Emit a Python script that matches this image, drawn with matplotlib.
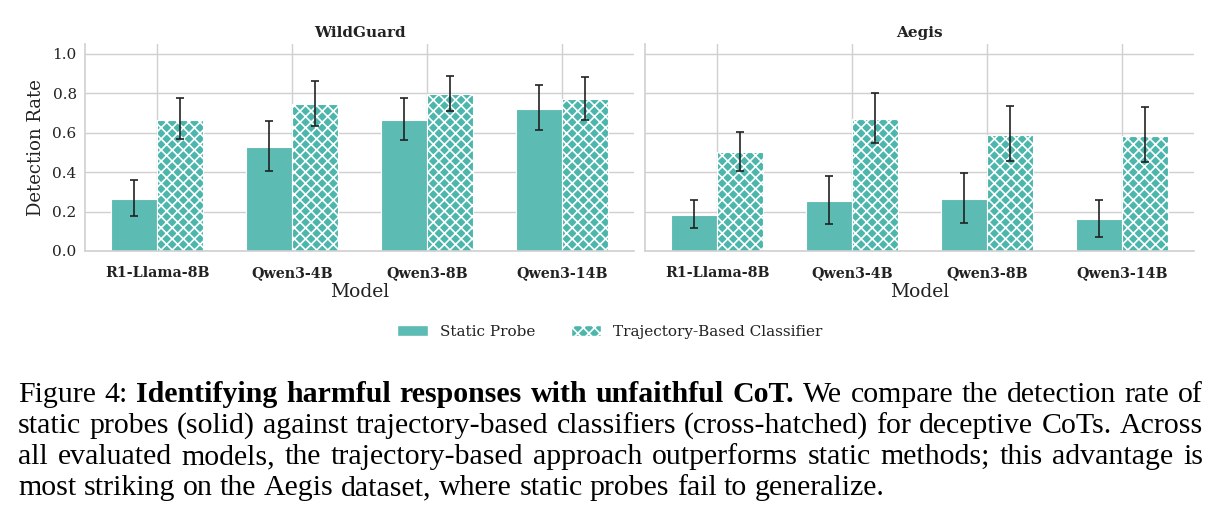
import numpy as np
import matplotlib
matplotlib.use("Agg")
import matplotlib.pyplot as plt
from matplotlib.patches import Patch

# data
models = ["R1-Llama-8B", "Qwen3-4B", "Qwen3-8B", "Qwen3-14B"]
datasets = ["WildGuard", "Aegis"]

wg_static = [0.263, 0.529, 0.666, 0.722]
wg_static_lo = [0.176, 0.407, 0.563, 0.612]
wg_static_hi = [0.358, 0.658, 0.778, 0.841]
wg_traj = [0.666, 0.747, 0.798, 0.773]
wg_traj_lo = [0.568, 0.636, 0.712, 0.664]
wg_traj_hi = [0.775, 0.861, 0.890, 0.885]

ae_static = [0.183, 0.254, 0.263, 0.161]
ae_static_lo = [0.115, 0.137, 0.141, 0.073]
ae_static_hi = [0.258, 0.380, 0.395, 0.258]
ae_traj = [0.503, 0.669, 0.590, 0.585]
ae_traj_lo = [0.408, 0.546, 0.454, 0.451]
ae_traj_hi = [0.605, 0.800, 0.734, 0.729]

yticks = [0.0, 0.2, 0.4, 0.6, 0.8, 1.0]

static_color = "#5cbbb3"
traj_color = "#4db6ac"
grid_color = "#d0d0d0"
W, H = 1218, 522

plt.rcParams["font.family"] = "DejaVu Serif"
plt.rcParams["hatch.linewidth"] = 1.2
plt.rcParams["hatch.color"] = "white"

fig = plt.figure(figsize=(W / 100, H / 100), dpi=100)
ax1 = fig.add_axes([85 / W, (H - 251) / H, 549 / W, 207 / H])
ax2 = fig.add_axes([645 / W, (H - 251) / H, 549 / W, 207 / H])

panels = [
    (ax1, "WildGuard", wg_static, wg_static_lo, wg_static_hi, wg_traj, wg_traj_lo, wg_traj_hi),
    (ax2, "Aegis", ae_static, ae_static_lo, ae_static_hi, ae_traj, ae_traj_lo, ae_traj_hi),
]

x = np.arange(len(models))
bw = 0.34
for ax, title, s, slo, shi, t, tlo, thi in panels:
    s, slo, shi = np.array(s), np.array(slo), np.array(shi)
    t, tlo, thi = np.array(t), np.array(tlo), np.array(thi)
    ax.set_axisbelow(True)
    ax.grid(True, color=grid_color, linewidth=1.0)
    ax.bar(x - bw / 2, s, bw, color=static_color, edgecolor="white", linewidth=0.8, zorder=2)
    ax.bar(x + bw / 2, t, bw, color=traj_color, edgecolor="white", linewidth=0.8,
           hatch="xxx", zorder=2)
    ax.errorbar(x - bw / 2, s, yerr=[s - slo, shi - s], fmt="none", ecolor="#222222",
                elinewidth=1.2, capsize=3, capthick=1.2, zorder=3)
    ax.errorbar(x + bw / 2, t, yerr=[t - tlo, thi - t], fmt="none", ecolor="#222222",
                elinewidth=1.2, capsize=3, capthick=1.2, zorder=3)
    ax.set_xlim(-0.535, 3.535)
    ax.set_ylim(0, 1.05)
    ax.set_yticks(yticks)
    ax.set_xticks(x)
    ax.set_xticklabels(models, fontsize=10.3, fontweight="bold", color="#222222")
    ax.tick_params(axis="y", length=0, pad=6, labelsize=11, colors="#222222")
    ax.tick_params(axis="x", length=0, pad=11, colors="#222222")
    for sp in ["top", "right"]:
        ax.spines[sp].set_visible(False)
    for sp in ["left", "bottom"]:
        ax.spines[sp].set_color(grid_color)
        ax.spines[sp].set_linewidth(1.2)
    ax.set_title(title, fontsize=11, fontweight="bold", color="#222222", pad=5)
    ax.set_xlabel("Model", fontsize=13.5, color="#222222", labelpad=2)

ax1.set_ylabel("Detection Rate", fontsize=13, color="#222222", labelpad=5)
ax2.tick_params(axis="y", labelleft=False)

handles = [Patch(facecolor=static_color, edgecolor="white", label="Static Probe"),
           Patch(facecolor=traj_color, edgecolor="white", hatch="xxx",
                 label="Trajectory-Based Classifier")]
fig.legend(handles=handles, loc="center", bbox_to_anchor=(610 / W, (H - 332) / H), ncol=2,
           frameon=False, fontsize=11, handlelength=2.0, handleheight=0.7, columnspacing=2.3,
           labelcolor="#222222")

# caption, justified word by word
caption = [
    [("Figure 4:", "normal"), ("Identifying harmful responses with unfaithful CoT.", "bold"),
     ("We compare the detection rate of", "normal")],
    [("static probes (solid) against trajectory-based classifiers (cross-hatched) for deceptive CoTs. Across", "normal")],
    [("all evaluated models, the trajectory-based approach outperforms static methods; this advantage is", "normal")],
    [("most striking on the Aegis dataset, where static probes fail to generalize.", "normal")],
]
baselines = [401.5, 432.7, 463.9, 495.1]
x_left, x_right = 18, 1203
cap_size = 21.5
renderer = fig.canvas.get_renderer()

for i, (parts, yb) in enumerate(zip(caption, baselines)):
    words = []
    for txt, wt in parts:
        words += [(w, wt) for w in txt.split(" ")]
    objs = []
    for w, wt in words:
        t = fig.text(0, 1 - yb / H, w, fontsize=cap_size, family="Liberation Serif",
                     fontweight=wt, va="baseline", ha="left", color="black")
        objs.append(t)
    widths = [t.get_window_extent(renderer).width for t in objs]
    if i < len(caption) - 1:
        gap = (x_right - x_left - sum(widths)) / (len(objs) - 1)
    else:
        gap = cap_size * 100 / 72 * 0.25
    xc = x_left
    for t, wd in zip(objs, widths):
        t.set_x(xc / W)
        xc += wd + gap

fig.savefig("out.png", dpi=100)
